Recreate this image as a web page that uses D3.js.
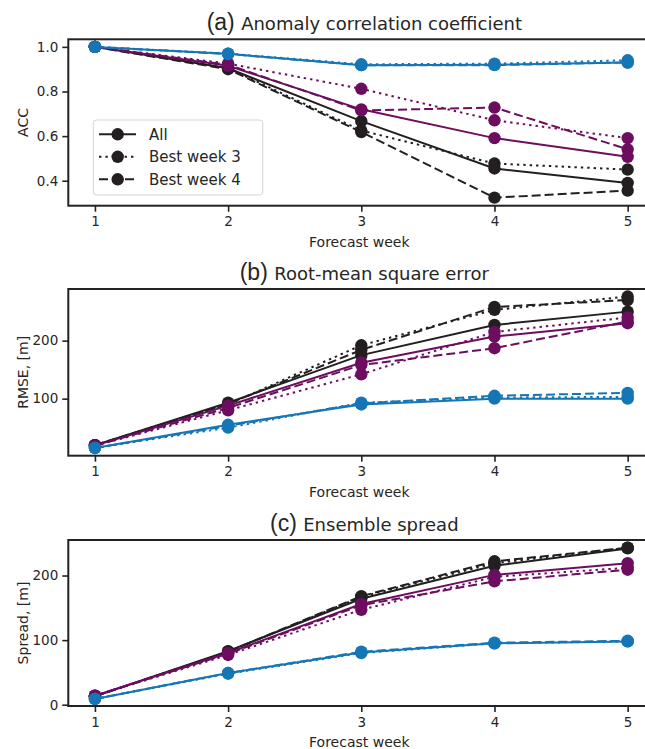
<!DOCTYPE html>
<meta charset="utf-8">
<head>
  <title>Forecast skill by week</title>
  <style>
    body { margin: 0; background: #fff; }
    text { font-family: "DejaVu Sans", sans-serif; fill: #262626; }
  </style>
</head>
<body>
<script src="https://d3js.org/d3.v7.min.js"></script>
<script>

const weeks = [1, 2, 3, 4, 5];
const styles = ["All", "Best week 3", "Best week 4"];
const colors = ["#231f20", "#6c0d60", "#1576b6"];  // black, purple, blue groups

// each array: [black, purple, blue]
const accAll   = [[1.0, 0.904, 0.667, 0.455, 0.39], [1.0, 0.915, 0.72, 0.591, 0.507], [1.0, 0.969, 0.918, 0.92, 0.93]];
const accBest3 = [[1.0, 0.905, 0.625, 0.477, 0.45], [1.0, 0.925, 0.812, 0.671, 0.591], [1.0, 0.97, 0.922, 0.925, 0.94]];
const accBest4 = [[1.0, 0.9, 0.618, 0.324, 0.356], [1.0, 0.92, 0.715, 0.728, 0.541], [1.0, 0.968, 0.918, 0.918, 0.93]];

const rmseAll   = [[20, 93, 175, 227, 250], [19, 88, 162, 207, 230], [15, 55, 90, 100, 100]];
const rmseBest3 = [[20, 90, 192, 253, 276], [19, 80, 142, 215, 240], [15, 50, 93, 102, 103]];
const rmseBest4 = [[20, 91, 184, 258, 270], [19, 84, 158, 187, 233], [15, 53, 92, 105, 110]];

const spreadAll   = [[13, 83, 164, 215, 242], [14, 80, 156, 201, 219], [9, 49, 81, 95, 98]];
const spreadBest3 = [[13, 82, 167, 219, 243], [14, 77, 147, 198, 212], [9, 48, 80, 95, 98]];
const spreadBest4 = [[13, 82, 168, 222, 243], [14, 79, 154, 191, 209], [9, 49, 82, 96, 99]];

const accTicks = [0.4, 0.6, 0.8, 1.0];
const rmseTicks = [100, 200];
const spreadTicks = [0, 100, 200];

const dashes = [null, "2.4,4", "9,4"];

const panels = [
  { tag: "(a)", title: "Anomaly correlation coefficient", ylabel: "ACC",
    series: [accAll, accBest3, accBest4], domain: [0.288, 1.034], ticks: accTicks,
    fmt: d3.format(".1f"), top: 39.3, bottom: 205.7, legend: true },
  { tag: "(b)", title: "Root-mean square error", ylabel: "RMSE, [m]",
    series: [rmseAll, rmseBest3, rmseBest4], domain: [1.7, 289], ticks: rmseTicks,
    fmt: d3.format("d"), top: 289, bottom: 455.7 },
  { tag: "(c)", title: "Ensemble spread", ylabel: "Spread, [m]",
    series: [spreadAll, spreadBest3, spreadBest4], domain: [-2, 255], ticks: spreadTicks,
    fmt: d3.format("d"), top: 540, bottom: 706 }
];

const W = 645, H = 749;
const left = 68.3, right = 654.3;

const svg = d3.select("body").append("svg")
    .attr("width", W)
    .attr("height", H);

const x = d3.scaleLinear().domain([0.8, 5.2]).range([left, right]);

panels.forEach(p => {
  const y = d3.scaleLinear().domain(p.domain).range([p.bottom, p.top]);
  const g = svg.append("g");

  const line = d3.line()
      .x((d, i) => x(weeks[i]))
      .y(d => y(d));

  // draw groups: black, purple, blue (blue on top)
  colors.forEach((c, gi) => {
    p.series.forEach((s, si) => {
      const vals = s[gi];
      g.append("path")
        .attr("d", line(vals))
        .attr("fill", "none")
        .attr("stroke", c)
        .attr("stroke-width", 2)
        .attr("stroke-dasharray", dashes[si]);
      g.selectAll(null)
        .data(vals)
        .enter().append("circle")
        .attr("cx", (d, i) => x(weeks[i]))
        .attr("cy", d => y(d))
        .attr("r", 6.2)
        .attr("fill", c);
    });
  });

  // frame
  g.append("rect")
    .attr("x", left)
    .attr("y", p.top)
    .attr("width", right - left)
    .attr("height", p.bottom - p.top)
    .attr("fill", "none")
    .attr("stroke", "#222")
    .attr("stroke-width", 2);

  // axes
  const xa = g.append("g")
    .attr("transform", "translate(0," + p.bottom + ")")
    .call(d3.axisBottom(x).tickValues(weeks).tickSize(6).tickPadding(5).tickFormat(d3.format("d")));
  const ya = g.append("g")
    .attr("transform", "translate(" + left + ",0)")
    .call(d3.axisLeft(y).tickValues(p.ticks).tickSize(6).tickPadding(4).tickFormat(p.fmt));
  [xa, ya].forEach(a => {
    a.select(".domain").remove();
    a.selectAll(".tick line").attr("stroke", "#222").attr("stroke-width", 1.6);
    a.selectAll(".tick text").attr("font-size", 13.5).attr("fill", "#262626")
      .attr("font-family", "DejaVu Sans");
  });

  // axis labels
  g.append("text")
    .attr("x", (left + right) / 2 - 2)
    .attr("y", p.bottom + 41)
    .attr("text-anchor", "middle")
    .attr("font-size", 14)
    .text("Forecast week");
  g.append("text")
    .attr("transform", "translate(27.5," + (p.top + p.bottom) / 2 + ") rotate(-90)")
    .attr("text-anchor", "middle")
    .attr("font-size", 14)
    .text(p.ylabel);

  // title
  const t = g.append("text")
    .attr("x", (left + right) / 2 + 3)
    .attr("y", p.top - 9)
    .attr("text-anchor", "middle");
  t.append("tspan")
    .attr("font-family", "Liberation Sans, Arial, sans-serif")
    .attr("font-size", 23)
    .text(p.tag + " ");
  t.append("tspan")
    .attr("font-size", 18)
    .text(p.title);

  if (p.legend) {
    const lg = g.append("g");
    lg.append("rect")
      .attr("x", 93.3).attr("y", 120)
      .attr("width", 169.4).attr("height", 75)
      .attr("rx", 3)
      .attr("fill", "rgba(255,255,255,0.8)")
      .attr("stroke", "#d5d5d5");
    styles.forEach((name, i) => {
      const ly = 134.3 + i * 22.5;
      lg.append("line")
        .attr("x1", 99).attr("x2", 136)
        .attr("y1", ly).attr("y2", ly)
        .attr("stroke", colors[0])
        .attr("stroke-width", 2)
        .attr("stroke-dasharray", dashes[i]);
      lg.append("circle")
        .attr("cx", 117.7).attr("cy", ly).attr("r", 6.2)
        .attr("fill", colors[0]);
      lg.append("text")
        .attr("x", 149).attr("y", ly + 5.5)
        .attr("font-size", 15)
        .text(name);
    });
  }
});

</script>
</body>
</html>
